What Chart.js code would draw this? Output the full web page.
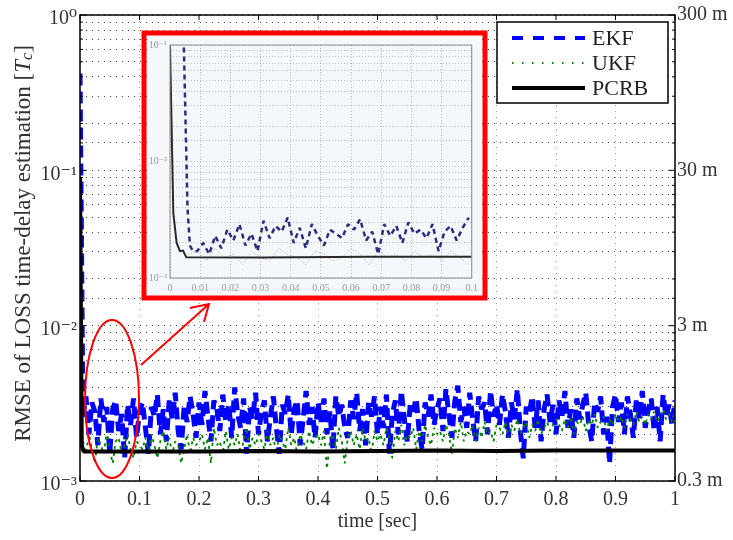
<!DOCTYPE html>
<html>
<head>
<meta charset="utf-8">
<script src="https://cdn.jsdelivr.net/npm/chart.js@4.4.1/dist/chart.umd.min.js"></script>
<style>
  html, body { margin: 0; padding: 0; background: #fff; }
  #wrap { position: relative; width: 733px; height: 540px; }
  #main { position: absolute; left: 0; top: 0; }
  #inset { position: absolute; left: 147px; top: 36px; }
</style>
</head>
<body>
<div id="wrap">
  <canvas id="main" width="733" height="540"></canvas>
  <canvas id="inset" width="335" height="259"></canvas>
</div>
<script>
// ---------- data (RMSE values in units of 1e-3 Tc) ----------
const unit = 1e-3;
const mainStep = 0.005;          // sample spacing of the noisy curves [sec]
const ekfStart = 420;            // EKF value at t = 0

const ekfVals = [
  2.6, 3.5, 2.0, 3.2, 2.8, 1.7, 3.4, 2.4, 3.0, 1.5, 2.9, 3.3, 2.1, 2.7, 1.4, 3.1, 2.3, 3.4, 1.9, 2.8,
  3.2, 2.2, 1.5, 3.0, 2.6, 3.6, 2.0, 2.9, 1.8, 3.3, 2.5, 3.7, 2.1, 1.6, 3.0, 2.4, 3.5, 2.7, 1.9, 3.2,
  2.3, 3.8, 2.6, 1.8, 3.3, 2.9, 2.1, 3.6, 2.4, 3.1, 1.9, 4.0, 2.7, 2.2, 3.4, 1.5, 3.0, 2.5, 3.7, 2.0,
  2.8, 3.3, 1.8, 2.6, 3.5, 2.2, 1.5, 3.1, 2.7, 3.6, 2.0, 2.9, 3.3, 1.7, 2.5, 3.8, 2.3, 3.0, 1.9, 3.2,
  2.4, 3.4, 2.0, 2.8, 1.6, 3.5, 2.6, 3.1, 2.2, 1.9, 3.3, 2.5, 3.7, 2.1, 2.9, 1.7, 3.2, 2.6, 3.5, 2.0,
  3.0, 2.2, 3.6, 1.5, 2.7, 3.3, 2.0, 3.8, 2.5, 1.8, 3.1, 2.8, 3.4, 2.1, 1.6, 3.2, 2.6, 3.6, 2.3, 2.9,
  3.4, 2.1, 3.9, 2.7, 1.9, 3.3, 4.1, 2.4, 3.0, 2.2, 3.7, 2.5, 1.8, 3.5, 2.9, 3.2, 2.0, 3.8, 2.6, 3.1,
  2.3, 3.6, 2.8, 1.9, 3.2, 2.5, 3.9, 2.1, 1.4, 3.0, 2.7, 3.5, 2.2, 3.3, 1.8, 2.9, 3.6, 2.4, 3.1, 2.0,
  3.3, 2.6, 3.8, 2.2, 2.9, 1.9, 3.4, 2.5, 3.1, 3.7, 2.3, 1.8, 3.2, 2.8, 3.5, 2.0, 2.6, 1.3, 3.0, 3.6,
  2.4, 3.2, 2.0, 3.5, 2.7, 1.9, 3.3, 2.5, 3.8, 2.2, 2.9, 3.4, 2.1, 3.0, 1.8, 3.6, 2.6, 3.1, 2.3, 3.3
];

const ukfVals = [
  1.8, 1.5, 2.0, 1.6, 1.3, 1.9, 1.7, 1.5, 2.1, 1.6, 1.3, 1.8, 1.9, 1.5, 1.7, 2.0, 1.6, 1.4, 1.8, 1.7,
  1.6, 1.9, 1.5, 2.0, 1.7, 1.4, 1.8, 2.1, 1.6, 1.9, 1.5, 1.8, 1.7, 1.3, 1.6, 2.0, 1.5, 1.9, 1.7, 1.8,
  2.0, 1.6, 1.9, 1.3, 2.2, 1.7, 1.8, 1.5, 2.1, 1.6, 1.9, 1.7, 2.0, 1.5, 1.8, 2.2, 1.6, 1.9, 1.7, 2.0,
  1.8, 1.6, 2.1, 1.7, 1.9, 1.5, 2.0, 1.8, 1.6, 2.2, 1.7, 1.9, 1.5, 2.0, 1.8, 1.6, 2.1, 1.7, 1.9, 2.0,
  1.7, 2.1, 1.2, 1.8, 2.0, 1.6, 2.2, 1.8, 1.3, 1.9, 2.1, 1.7, 2.0, 1.6, 2.2, 1.8, 1.9, 1.5, 2.1, 1.8,
  2.0, 1.7, 2.2, 1.9, 1.4, 2.1, 1.8, 2.3, 1.7, 2.0, 1.9, 2.2, 1.6, 2.1, 1.8, 2.3, 1.9, 1.7, 2.2, 2.0,
  2.1, 1.8, 2.3, 2.0, 1.5, 2.2, 1.9, 2.4, 1.8, 2.1, 2.0, 2.3, 1.8, 2.2, 1.9, 2.4, 2.0, 2.1, 1.8, 2.3,
  2.2, 2.0, 2.4, 1.9, 2.3, 2.1, 2.5, 2.0, 2.2, 2.4, 1.9, 2.3, 2.1, 2.5, 2.0, 2.2, 2.4, 2.1, 2.3, 2.5,
  2.3, 2.1, 2.5, 2.2, 2.6, 2.0, 2.4, 2.3, 2.6, 2.1, 2.5, 2.3, 2.7, 2.2, 2.4, 2.6, 2.1, 2.5, 2.3, 2.7,
  2.4, 2.6, 2.2, 2.7, 2.5, 2.3, 2.8, 2.4, 2.6, 2.3, 2.7, 2.5, 2.8, 2.4, 2.6, 2.9, 2.5, 2.7, 2.4, 2.8
];

const pcrbTimes = [0, 0.003, 0.006, 0.1, 0.2, 0.3, 0.4, 0.5, 0.6, 0.7, 0.8, 0.9, 1.0];
const pcrbVals  = [90, 1.7, 1.55, 1.55, 1.55, 1.56, 1.55, 1.56, 1.57, 1.56, 1.57, 1.57, 1.57];

const xTickLabels = ['0', '0.1', '0.2', '0.3', '0.4', '0.5', '0.6', '0.7', '0.8', '0.9', '1'];
const yTickLabels = ['10\u2070', '10\u207B\u00B9', '10\u207B\u00B2', '10\u207B\u00B3']; // 1, 0.1, 0.01, 0.001
const rightLabels = ['300 m', '30 m', '3 m', '0.3 m'];
const legendLabels = ['EKF', 'UKF', 'PCRB'];

// ---------- inset (zoom on 0 .. 0.1 sec) ----------
const insetEkfHeadTimes = [0.0046, 0.0058, 0.0066, 0.0076];
const insetEkfHeadVals  = [95, 4.0, 1.9, 1.7];
const insetEkfStart = 0.009;
const insetEkfStep = 0.002;
const insetEkfVals = [
  1.7, 2.0, 1.6, 2.3, 1.8, 2.6, 2.1, 2.9, 1.9, 2.4, 1.7, 3.1, 2.2, 2.8, 2.5, 3.3,
  2.0, 2.7, 1.8, 2.9, 2.3, 1.9, 2.6, 2.4, 2.2, 2.9, 2.6, 3.2, 2.1, 2.5, 1.6, 2.9,
  2.3, 2.8, 2.0, 3.0, 2.4, 2.6, 2.2, 2.9, 1.7, 2.5, 2.8, 2.1, 2.7, 3.3
];
const insetUkfStart = 0.006;
const insetUkfStep = 0.003;
const insetUkfVals = [
  1.6, 1.7, 1.4, 1.8, 1.5, 1.6, 1.3, 1.7, 1.5, 1.4, 1.8, 1.6, 1.5, 1.3, 1.7, 1.6,
  1.4, 1.5, 1.8, 1.6, 1.3, 1.7, 1.5, 1.6, 1.4, 1.7, 1.5, 1.6, 1.4, 1.7, 1.5, 1.3
];
const insetPcrbTimes = [0, 0.0011, 0.0022, 0.0033, 0.0043, 0.0054, 0.03, 0.066, 0.1];
const insetPcrbVals  = [100, 3.6, 2.0, 1.7, 1.72, 1.51, 1.5, 1.52, 1.52];
const insetXLabels = ['0', '0.01', '0.02', '0.03', '0.04', '0.05', '0.06', '0.07', '0.08', '0.09', '0.1'];
const insetYLabels = ['10\u207B\u00B9', '10\u207B\u00B2', '10\u207B\u00B3']; // 0.1, 0.01, 0.001

// ---------- helpers ----------
const SERIF = '"Liberation Serif", "DejaVu Serif", serif';
Chart.defaults.font.family = SERIF;

const toPoints = (times, vals) => vals.map((v, i) => ({ x: times[i], y: v * unit }));
const stepPoints = (start, step, vals) => vals.map((v, i) => ({ x: start + i * step, y: v * unit }));

// label only decades: labels[k] belongs to 10^-(k + offset)
function decadeLabel(value, labels, offset) {
  const e = -Math.log10(value);
  const k = Math.round(e);
  if (Math.abs(e - k) > 1e-6) return '';
  return labels[k - offset] ?? '';
}

const ekfData = [{ x: 0, y: ekfStart * unit }].concat(stepPoints(mainStep, mainStep, ekfVals));
const ukfData = stepPoints(mainStep, mainStep, ukfVals);
const pcrbData = toPoints(pcrbTimes, pcrbVals);

const styles = {
  ekf:  { color: '#0000ff', width: 5,   dash: [12, 6] },
  ukf:  { color: '#008000', width: 1.8, dash: [3, 4] },
  pcrb: { color: '#000000', width: 4,   dash: [] }
};

// ---------- decorations of the main figure ----------
const mainDecor = {
  id: 'mainDecor',
  afterDraw(chart) {
    const ctx = chart.ctx;
    const a = chart.chartArea;
    const xs = chart.scales.x, ys = chart.scales.y;
    ctx.save();

    // frame
    ctx.strokeStyle = '#000';
    ctx.lineWidth = 1.5;
    ctx.strokeRect(a.left, a.top, a.right - a.left, a.bottom - a.top);

    // inward ticks
    ctx.lineWidth = 1;
    ctx.beginPath();
    xs.ticks.forEach(t => {
      const px = xs.getPixelForValue(t.value);
      ctx.moveTo(px, a.bottom); ctx.lineTo(px, a.bottom - 5);
      ctx.moveTo(px, a.top);    ctx.lineTo(px, a.top + 5);
    });
    ys.ticks.forEach(t => {
      const py = ys.getPixelForValue(t.value);
      const e = Math.log10(t.value);
      const len = Math.abs(e - Math.round(e)) < 1e-6 ? 6 : 3;
      ctx.moveTo(a.left, py);  ctx.lineTo(a.left + len, py);
      ctx.moveTo(a.right, py); ctx.lineTo(a.right - len, py);
    });
    ctx.stroke();

    // y axis title with italic T and subscript c
    const parts = [
      { t: 'RMSE of LOSS time-delay estimation [', style: '', k: 1, dy: 0 },
      { t: 'T', style: 'italic ', k: 1, dy: 0 },
      { t: 'c', style: 'italic ', k: 0.7, dy: 4 },
      { t: ']', style: '', k: 1, dy: 0 }
    ];
    const measure = s => parts.reduce((w, p) => {
      ctx.font = `${p.style}${s * p.k}px ${SERIF}`;
      return w + ctx.measureText(p.t).width;
    }, 0);
    const size = 20 * 397 / measure(20);
    const total = measure(size);
    ctx.translate(24, 243.5);
    ctx.rotate(-Math.PI / 2);
    ctx.fillStyle = '#333';
    ctx.textBaseline = 'middle';
    let cx = -total / 2;
    parts.forEach(p => {
      ctx.font = `${p.style}${size * p.k}px ${SERIF}`;
      ctx.fillText(p.t, cx, p.dy);
      cx += ctx.measureText(p.t).width;
    });
    ctx.setTransform(1, 0, 0, 1, 0, 0);

    // legend
    ctx.fillStyle = '#fff';
    ctx.fillRect(497, 22, 171, 81);
    ctx.strokeStyle = '#000';
    ctx.lineWidth = 1.5;
    ctx.strokeRect(497, 22, 171, 81);
    const legendDash = [[11, 10], [1.5, 8.5], []];
    [styles.ekf, styles.ukf, styles.pcrb].forEach((s, i) => {
      const y = 38 + i * 25;
      ctx.strokeStyle = s.color;
      ctx.lineWidth = Math.min(s.width, 4);
      ctx.setLineDash(legendDash[i]);
      ctx.beginPath(); ctx.moveTo(512, y); ctx.lineTo(585, y); ctx.stroke();
      ctx.setLineDash([]);
      ctx.fillStyle = '#222';
      ctx.font = `22px ${SERIF}`;
      ctx.textBaseline = 'middle';
      ctx.fillText(legendLabels[i], 592, y + 1);
    });

    // zoom marker: red box, ellipse and arrow
    ctx.strokeStyle = '#ff0000';
    ctx.lineWidth = 5;
    ctx.strokeRect(144, 33, 341, 265);
    ctx.lineWidth = 2;
    ctx.beginPath();
    ctx.ellipse(112, 399, 27, 79, 0, 0, Math.PI * 2);
    ctx.stroke();
    ctx.beginPath();
    ctx.moveTo(141, 365); ctx.lineTo(209, 304);
    ctx.moveTo(190, 308); ctx.lineTo(209, 304); ctx.lineTo(204, 322);
    ctx.stroke();
    ctx.restore();
  }
};

const tickFont = { family: SERIF, size: 20 };

new Chart(document.getElementById('main'), {
  type: 'line',
  data: {
    datasets: [
      { label: 'EKF', data: ekfData, borderColor: styles.ekf.color, borderWidth: styles.ekf.width,
        borderDash: styles.ekf.dash, borderJoinStyle: 'bevel', pointRadius: 0, order: 3 },
      { label: 'UKF', data: ukfData, borderColor: styles.ukf.color, borderWidth: styles.ukf.width,
        borderDash: styles.ukf.dash, borderJoinStyle: 'bevel', pointRadius: 0, order: 2 },
      { label: 'PCRB', data: pcrbData, borderColor: styles.pcrb.color, borderWidth: styles.pcrb.width,
        borderJoinStyle: 'bevel', pointRadius: 0, order: 1 }
    ]
  },
  options: {
    responsive: false,
    animation: false,
    events: [],
    layout: { padding: { top: 12, left: 0, right: 0, bottom: 0 } },
    plugins: { legend: { display: false }, tooltip: { enabled: false } },
    scales: {
      x: {
        type: 'linear', min: 0, max: 1, position: 'bottom',
        ticks: { stepSize: 0.1, padding: 7, color: '#333', font: tickFont, maxRotation: 0, autoSkip: false,
                 callback: (v, i) => xTickLabels[i] ?? '' },
        grid: { color: '#999', lineWidth: 1, drawTicks: false },
        border: { display: false, dash: [1, 5] },
        title: { display: true, text: 'time [sec]', color: '#333', font: tickFont, padding: { top: 0, bottom: 6 } },
        afterFit: s => { s.height = 59; }
      },
      y: {
        type: 'logarithmic', min: 0.001, max: 1, position: 'left',
        ticks: { autoSkip: false, padding: 3, labelOffset: 4, color: '#333', font: tickFont,
                 callback: v => decadeLabel(v, yTickLabels, 0) },
        grid: { color: '#444', lineWidth: 1, drawTicks: false },
        border: { display: false, dash: [1, 5] },
        afterFit: s => { s.width = 80; }
      },
      y2: {
        type: 'logarithmic', min: 0.001, max: 1, position: 'right',
        ticks: { autoSkip: false, padding: 2, color: '#333', font: tickFont,
                 callback: v => decadeLabel(v, rightLabels, 0) },
        grid: { display: false, drawTicks: false },
        border: { display: false },
        afterFit: s => { s.width = 58; }
      }
    }
  },
  plugins: [mainDecor]
});

// ---------- inset chart ----------
const insetDecor = {
  id: 'insetDecor',
  beforeDraw(chart) {
    const ctx = chart.ctx;
    ctx.save();
    ctx.fillStyle = '#f4f8fb';
    ctx.fillRect(0, 0, chart.width, chart.height);
    ctx.restore();
  },
  afterDraw(chart) {
    const ctx = chart.ctx;
    const a = chart.chartArea;
    ctx.save();
    ctx.strokeStyle = '#8a8a8a';
    ctx.lineWidth = 1;
    ctx.strokeRect(a.left, a.top, a.right - a.left, a.bottom - a.top);
    ctx.restore();
  }
};

const insetFont = { family: SERIF, size: 10 };

new Chart(document.getElementById('inset'), {
  type: 'line',
  data: {
    datasets: [
      { label: 'EKF',
        data: toPoints(insetEkfHeadTimes, insetEkfHeadVals).concat(stepPoints(insetEkfStart, insetEkfStep, insetEkfVals)),
        borderColor: '#2d2d7d', borderWidth: 2.5, borderDash: [5, 4], borderJoinStyle: 'bevel', pointRadius: 0, order: 3 },
      { label: 'UKF', data: stepPoints(insetUkfStart, insetUkfStep, insetUkfVals),
        borderColor: 'rgba(120,120,120,0.6)', borderWidth: 1, borderDash: [1, 2], pointRadius: 0, order: 2 },
      { label: 'PCRB', data: toPoints(insetPcrbTimes, insetPcrbVals),
        borderColor: '#2a2a2a', borderWidth: 2, pointRadius: 0, order: 1 }
    ]
  },
  options: {
    responsive: false,
    animation: false,
    events: [],
    layout: { padding: { top: 4, right: 6, left: 0, bottom: 0 } },
    plugins: { legend: { display: false }, tooltip: { enabled: false } },
    scales: {
      x: {
        type: 'linear', min: 0, max: 0.1, position: 'bottom',
        ticks: { stepSize: 0.01, padding: 4, color: '#999', font: insetFont, maxRotation: 0, autoSkip: false,
                 callback: (v, i) => insetXLabels[i] ?? '' },
        grid: { color: 'rgba(140,140,140,0.55)', drawTicks: false },
        border: { display: false, dash: [1, 2] },
        afterFit: s => { s.height = 17; }
      },
      y: {
        type: 'logarithmic', min: 0.001, max: 0.1, position: 'left',
        ticks: { autoSkip: false, padding: 3, color: '#999', font: insetFont,
                 callback: v => decadeLabel(v, insetYLabels, 1) },
        grid: { color: 'rgba(140,140,140,0.55)', drawTicks: false },
        border: { display: false, dash: [1, 2] },
        afterFit: s => { s.width = 23; }
      }
    }
  },
  plugins: [insetDecor]
});
</script>
</body>
</html>
